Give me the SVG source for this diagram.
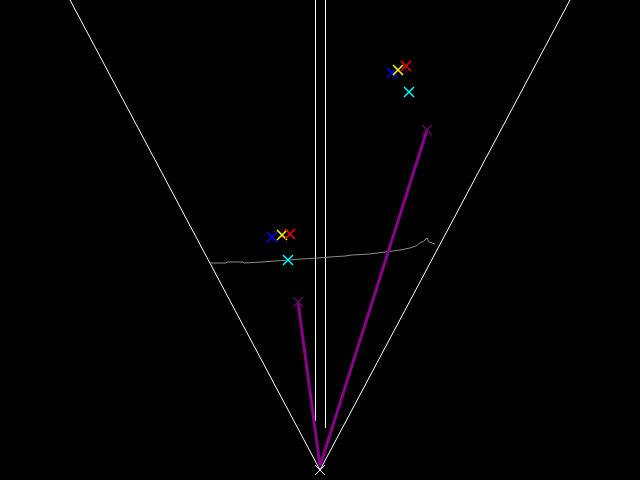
<svg xmlns="http://www.w3.org/2000/svg" width="640" height="480" viewBox="0 0 640 480">
<defs>
<style>
.w{stroke:#ffffff;stroke-width:1;fill:none}
.g{stroke:#8c8c8c;stroke-width:1;fill:none}
.p{stroke:#8b008b;stroke-width:3;fill:none}
.pm{stroke:#5c0a5c;stroke-width:1.5;fill:none}
.b{stroke:#0000ff;stroke-width:1.5;fill:none}
.y{stroke:#ffff00;stroke-width:1.5;fill:none}
.r{stroke:#ff0000;stroke-width:1.5;fill:none}
.c{stroke:#00ffff;stroke-width:1.5;fill:none}
</style>
<path id="x" d="M-5,-5L5,5M-5,5L5,-5"/>
</defs>
<rect x="0" y="0" width="640" height="480" fill="#000000"/>
<g id="frame">
<line class="w" x1="70" y1="0" x2="320" y2="470"/>
<line class="w" x1="570" y1="0" x2="320" y2="470"/>
<line class="w" x1="315.5" y1="0" x2="315.5" y2="421"/>
<line class="w" x1="325.5" y1="0" x2="325.5" y2="428"/>
<use href="#x" class="w" x="320" y="470"/>
</g>
<g id="profile">
<polyline class="g" points="210,263 226,263 227,262 243,262 244,263 262,262 275,261 290,260 300,259 318,258 330,257 345,256 352,255 370,254 385,252 400,250 410,248 416,246 420,243 424,241 427,238 429,242 435,244"/>
</g>
<g id="connectors">
<line class="p" x1="320" y1="466" x2="298" y2="302"/>
<line class="p" x1="320" y1="466" x2="427" y2="130"/>
</g>
<g id="target-near">
<use href="#x" class="pm" x="298" y="302"/>
<use href="#x" class="b" x="272" y="237"/>
<use href="#x" class="y" x="282" y="235"/>
<use href="#x" class="r" x="290" y="234"/>
<use href="#x" class="c" x="288" y="260"/>
</g>
<g id="target-far">
<use href="#x" class="pm" x="427" y="130"/>
<use href="#x" class="b" x="392" y="73"/>
<use href="#x" class="y" x="398" y="70"/>
<use href="#x" class="r" x="406" y="66"/>
<use href="#x" class="c" x="409" y="92"/>
</g>
</svg>
